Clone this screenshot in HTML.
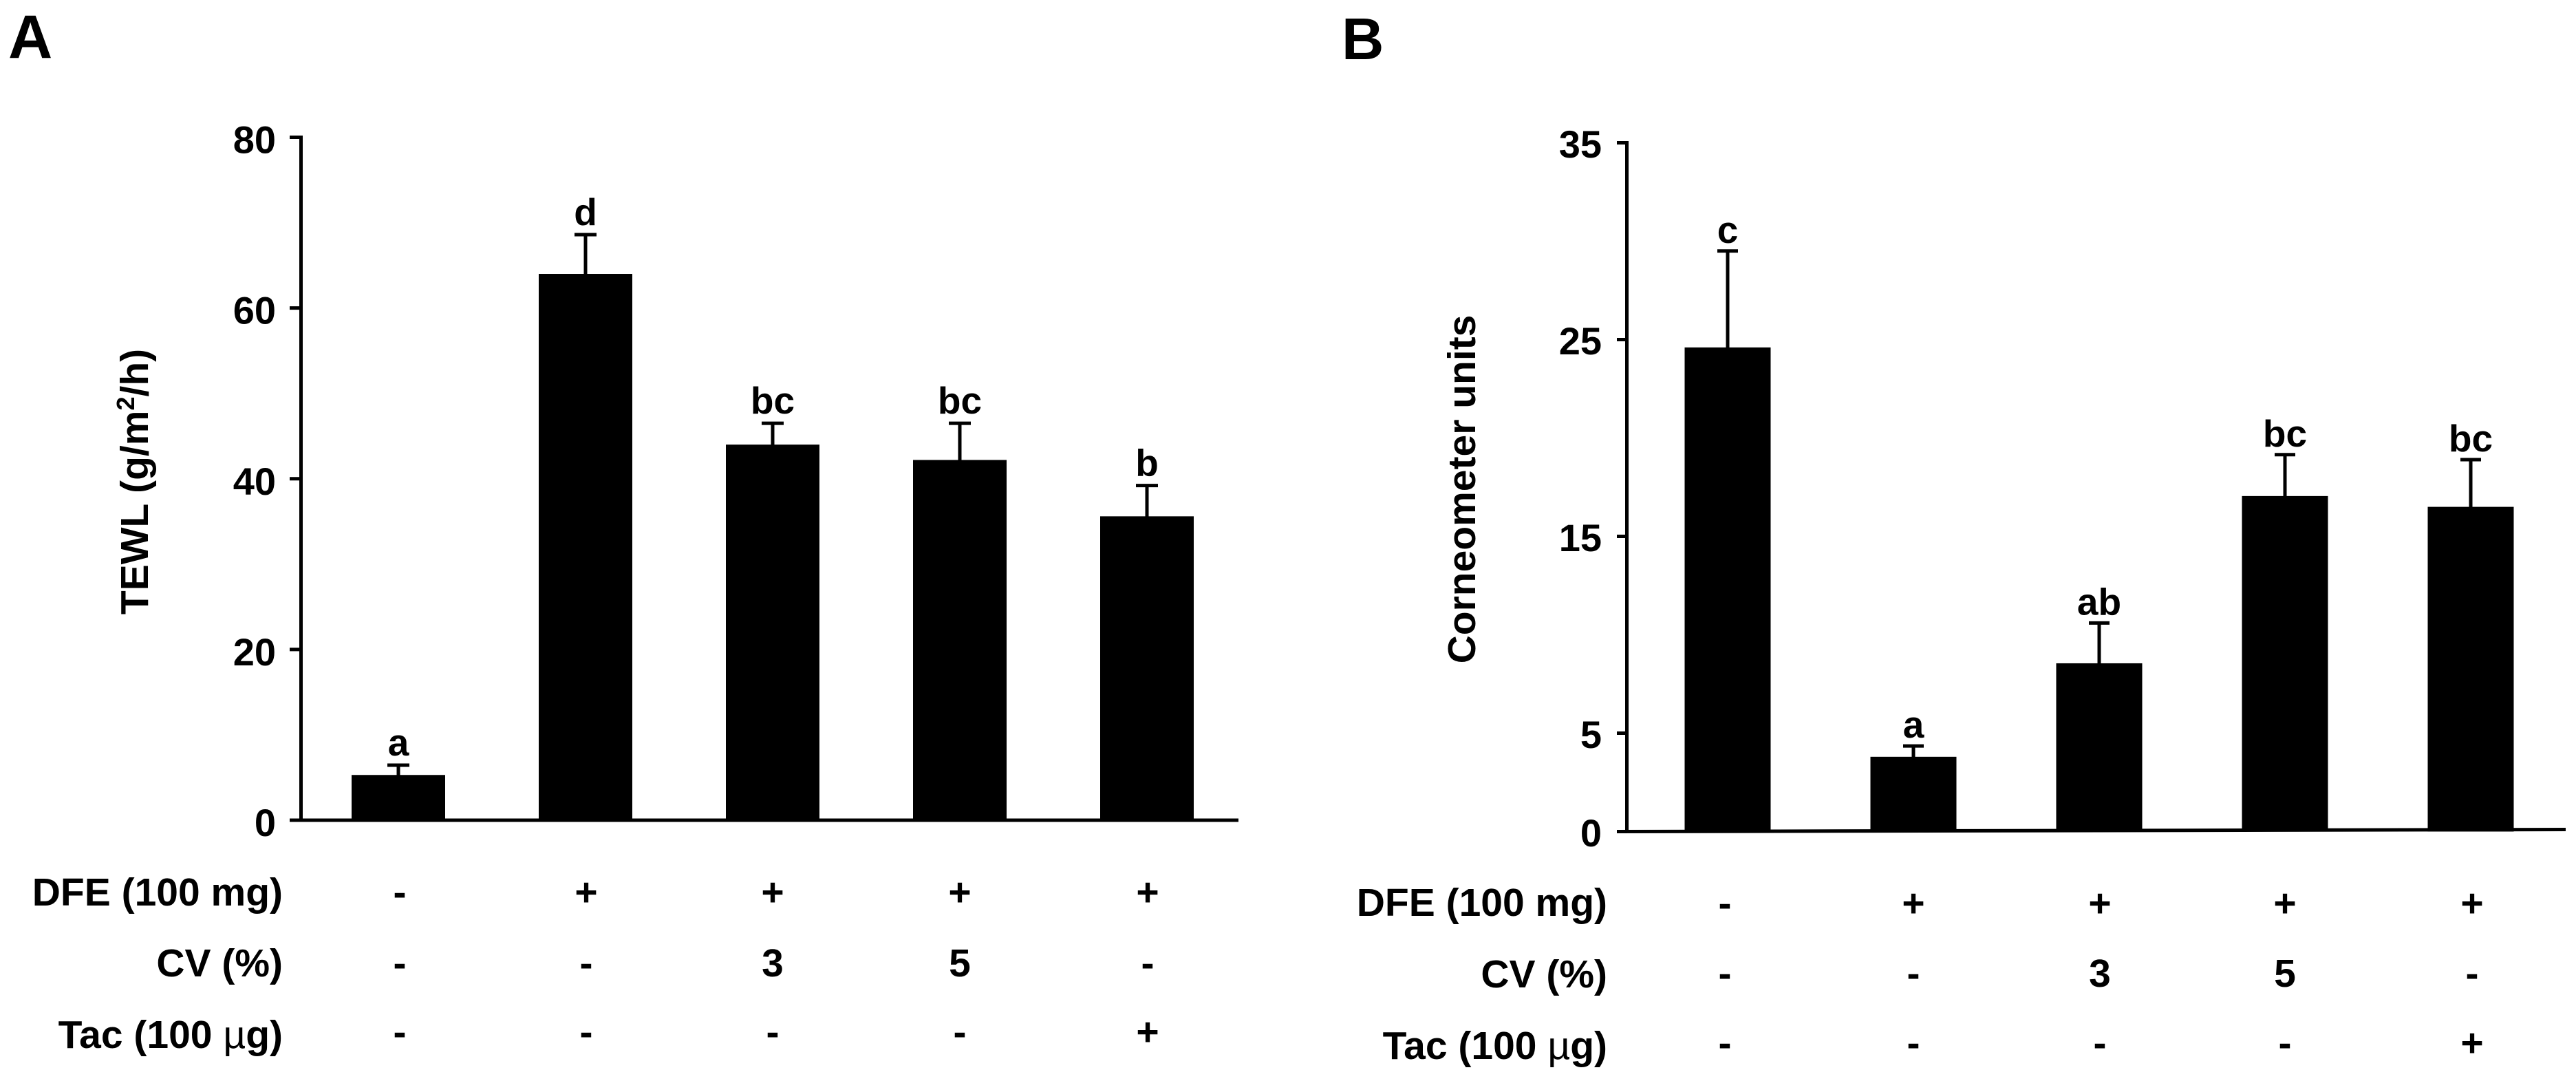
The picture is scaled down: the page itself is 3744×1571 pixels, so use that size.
<!DOCTYPE html>
<html lang="en">
<head>
<meta charset="utf-8">
<title>TEWL and Corneometer bar charts</title>
<style>
html,body{margin:0;padding:0;background:#fff;}
svg{display:block;}
text{font-family:"Liberation Sans",Arial,sans-serif;font-weight:bold;fill:#000;}
</style>
</head>
<body>
<svg id="figure" xmlns="http://www.w3.org/2000/svg" width="3744" height="1571" viewBox="0 0 3744 1571">
  <rect width="3744" height="1571" fill="#fff"/>
  <text x="12" y="84" font-size="89">A</text>
  <text x="1950" y="86" font-size="85">B</text>
  <text transform="translate(215,700) rotate(-90)" text-anchor="middle" font-size="57">TEWL (g/m<tspan font-size="36" dy="-20">2</tspan><tspan dy="20">/h)</tspan></text>
  <text transform="translate(2144,711) rotate(-90)" text-anchor="middle" font-size="57">Corneometer units</text>
  <g id="panel-a"></g>
  <g id="panel-b"></g>
  <g id="rows-a"></g>
  <g id="rows-b"></g>
</svg>
<script>
// Panel A data
const aTicks = [0, 20, 40, 60, 80];
const aValues = [5.3, 64.0, 44.0, 42.2, 35.6];
const aErrors = [1.15, 4.6, 2.5, 4.3, 3.6];
const aLetters = ['a', 'd', 'bc', 'bc', 'b'];

// Panel B data
const bTicks = [0, 5, 15, 25, 35];
const bValues = [24.6, 3.8, 8.55, 17.05, 16.5];
const bErrors = [4.9, 0.55, 2.05, 2.1, 2.4];
const bLetters = ['c', 'a', 'ab', 'bc', 'bc'];

// Treatment table data (shared by both panels)
const rowLabels = ['DFE (100 mg)', 'CV (%)', 'Tac (100 \u00B5g)'];
const rowDfe = ['-', '+', '+', '+', '+'];
const rowCv = ['-', '-', '3', '5', '-'];
const rowTac = ['-', '-', '-', '-', '+'];

const SVGNS = 'http://www.w3.org/2000/svg';

function mk(tag, parent, attrs) {
  const el = document.createElementNS(SVGNS, tag);
  for (const k in attrs) el.setAttribute(k, attrs[k]);
  parent.appendChild(el);
  return el;
}

function drawPanel(root, o) {
  const y = v => o.y0 - v * o.pxPerUnit;
  const x = i => o.x0 + i * o.step;

  o.values.forEach((v, i) => {
    const top = y(v);
    const errTop = y(v + o.errors[i]);

    const stem = mk('line', root, {x1: x(i), x2: x(i), y1: errTop, y2: top + 2, stroke: '#000', 'stroke-width': 5});
    
    

    const cap = mk('line', root, {x1: x(i) - o.capW / 2, x2: x(i) + o.capW / 2, y1: errTop, y2: errTop, stroke: '#000', 'stroke-width': 5});
    
    

    const bar = mk('rect', root, {x: x(i) - o.barW / 2, y: top, width: o.barW, height: y(0) - top, fill: '#000'});
    
    

    const sig = mk('text', root, {x: x(i), y: errTop - o.letterGap, 'text-anchor': 'middle', 'font-size': 55});
    sig.textContent = o.letters[i];
    
    
  });

  const yAxis = mk('line', root, {x1: o.axisX, x2: o.axisX, y1: y(o.ticks[o.ticks.length - 1]) - 2.5, y2: y(0), stroke: '#000', 'stroke-width': 5});
  
  

  const xAxis = mk('line', root, {x1: o.axisX - o.tickLen, x2: o.axisEnd, y1: y(0), y2: y(0) - o.tilt, stroke: '#000', 'stroke-width': 5});
  
  

  o.ticks.forEach(t => {
    const tick = mk('line', root, {x1: o.axisX - o.tickLen, x2: o.axisX, y1: y(t), y2: y(t), stroke: '#000', 'stroke-width': 5});
    
    

    const lab = mk('text', root, {x: o.labelX, y: y(t) + o.labelDy, 'text-anchor': 'end', 'font-size': 56});
    lab.textContent = t;
    
    
  });
}

function drawRows(root, o) {
  const rows = [rowDfe, rowCv, rowTac];
  rows.forEach((cells, r) => {
    const head = mk('text', root, {x: o.labelX, y: o.labelY[r], 'text-anchor': 'end', 'font-size': 57});
    const parts = rowLabels[r].split('\u00B5');
    head.appendChild(document.createTextNode(parts[0]));
    if (parts.length > 1) {
      const mu = mk('tspan', head, {'font-weight': 'normal'});
      mu.textContent = '\u00B5';
      head.appendChild(document.createTextNode(parts[1]));
    }
    
    

    cells.forEach((c, i) => {
      const cell = mk('text', root, {x: o.cols[i], y: o.cellY[r], 'text-anchor': 'middle', 'font-size': 57});
      cell.textContent = c;
      
      
    });
  });
}

drawPanel(document.getElementById('panel-a'), {
  values: aValues, errors: aErrors, letters: aLetters, ticks: aTicks,
  y0: 1192, pxPerUnit: 12.406, x0: 579, step: 272, barW: 136, capW: 32,
  axisX: 437.5, axisEnd: 1800, tickLen: 16.5, tilt: 0, labelX: 401, labelDy: 23, letterGap: 14
});
drawPanel(document.getElementById('panel-b'), {
  values: bValues, errors: bErrors, letters: bLetters, ticks: bTicks,
  y0: 1208.5, pxPerUnit: 28.6, x0: 2511, step: 270, barW: 125, capW: 30,
  axisX: 2364.5, axisEnd: 3729, tickLen: 14.5, tilt: 3, labelX: 2328, labelDy: 21.5, letterGap: 12
});
drawRows(document.getElementById('rows-a'), {
  labelX: 411, labelY: [1316, 1419, 1523], cellY: [1316, 1419, 1519],
  cols: [581, 852, 1123, 1395, 1668]
});
drawRows(document.getElementById('rows-b'), {
  labelX: 2336, labelY: [1331, 1435, 1539], cellY: [1332, 1434, 1535],
  cols: [2507, 2781, 3052, 3321, 3593]
});
</script>
</body>
</html>
